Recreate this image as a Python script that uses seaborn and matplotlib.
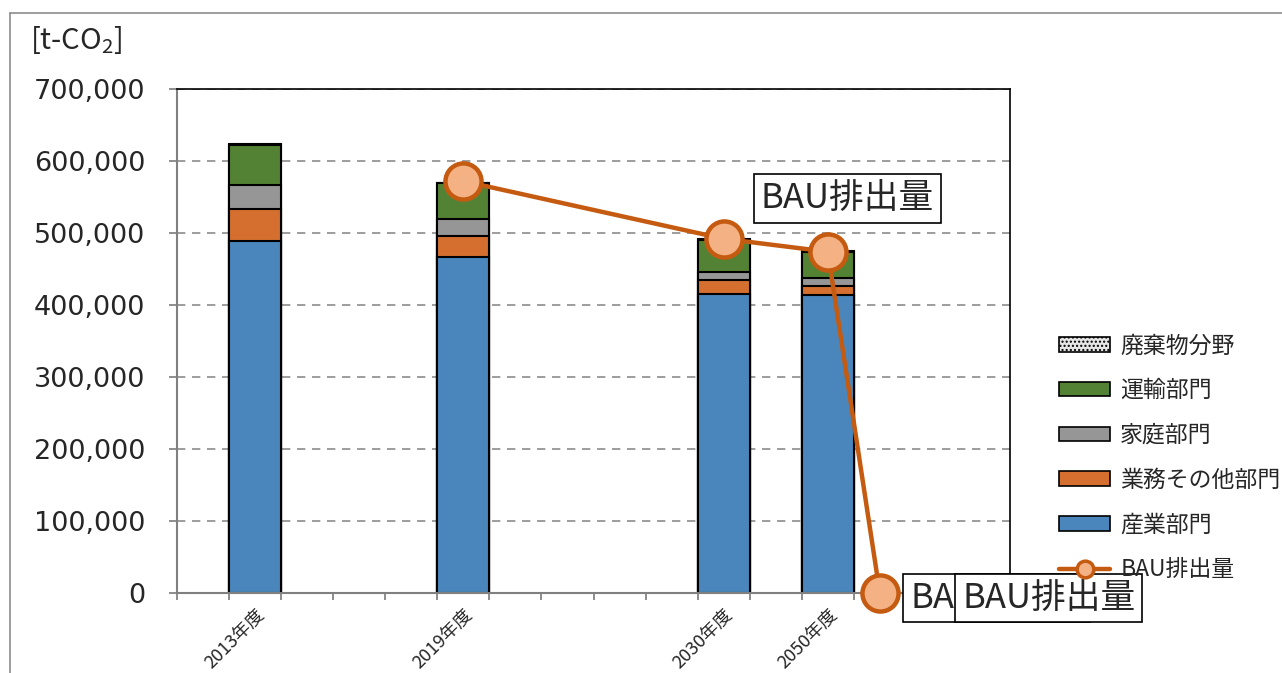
import numpy as np
import pandas as pd
import matplotlib
matplotlib.use("Agg")
import matplotlib.pyplot as plt
from matplotlib.patches import Patch
from matplotlib.lines import Line2D
import seaborn as sns

# ---- data ----
slots = [f"s{i}" for i in range(16)]
bar_slots = ["s1", "s5", "s10", "s12"]
bar_labels = ["2013年度", "2019年度", "2030年度", "2050年度"]
industry = [489000, 466000, 415000, 414000]      # 産業部門
business = [44000, 30000, 20000, 12000]          # 業務その他部門
household = [34000, 23000, 11000, 12000]         # 家庭部門
transport = [55000, 50000, 44000, 36000]         # 運輸部門
waste = [1000, 1000, 1000, 1000]                 # 廃棄物分野
bau_x = [5, 10, 12, 13]
bau_y = [572000, 492000, 474000, 0]
yticks = [0, 100000, 200000, 300000, 400000, 500000, 600000, 700000]

sns.set_theme(style="white")
plt.rcParams['font.family'] = ['Noto Sans CJK JP', 'DejaVu Sans']
plt.rcParams['mathtext.fontset'] = 'custom'
plt.rcParams['mathtext.rm'] = 'Noto Sans CJK JP'
plt.rcParams['hatch.color'] = '#AAAAAA'

fig = plt.figure(figsize=(12.82, 6.73), dpi=100)
ax = fig.add_axes([177/1282, 1-593/673, (1010-177)/1282, (593-89)/673])

c_ind = "#4A86BC"
c_bus = "#D46F2F"
c_hh = "#969696"
c_tr = "#548235"
c_wa = "#E6E6E6"

layers = [industry, business, household, transport, waste]
cum = np.cumsum(np.array(layers), axis=0)
colors = [c_ind, c_bus, c_hh, c_tr, c_wa]
for k in range(4, -1, -1):
    df = pd.DataFrame({"slot": bar_slots, "val": cum[k]})
    sns.barplot(data=df, x="slot", y="val", order=slots, color=colors[k],
                width=1.0, edgecolor="black", linewidth=1.5, saturation=1,
                ax=ax, zorder=2)

sns.lineplot(x=bau_x, y=bau_y, ax=ax, color="#C55A11", linewidth=3.2,
             marker="o", markersize=26, markerfacecolor="#F4B183",
             markeredgecolor="#C55A11", markeredgewidth=3.2, zorder=5,
             clip_on=False)

ax.set_xlim(-0.5, 15.5)
ax.set_ylim(0, 700000)
ax.set_yticks(yticks)
ax.set_yticklabels([f"{v:,}" for v in yticks], fontsize=19.5, family="DejaVu Sans")
ax.tick_params(axis='y', length=6, color="#808080", direction='out', left=True, pad=17)
ax.yaxis.grid(True, linestyle=(0, (5, 4)), color="#8C8C8C", linewidth=1.2)
ax.set_axisbelow(True)

ax.set_xticks(np.arange(-0.5, 16, 1.0))
ax.set_xticklabels([])
ax.tick_params(axis='x', length=5, color="#808080", direction='out', bottom=True)
ax.set_xticks([1, 5, 10, 12], minor=True)
ax.set_xticklabels(bar_labels, minor=True, rotation=45, ha='right',
                   rotation_mode='anchor', fontsize=13)
ax.tick_params(axis='x', which='minor', length=0, pad=9)
ax.set_xlabel("")
ax.set_ylabel("")

for s in ["left", "bottom"]:
    ax.spines[s].set_color("#808080")
    ax.spines[s].set_linewidth(1.5)
for s in ["top", "right"]:
    ax.spines[s].set_color("black")
    ax.spines[s].set_linewidth(1.2)

box = dict(boxstyle="square,pad=0.2", facecolor="white", edgecolor="black", linewidth=1.2)
ax.text(12.38, 548000, "BAU排出量", fontsize=25, ha='center', va='center', bbox=box, zorder=6)
ax.text(13.58, -7000, "BAU排出量", fontsize=25, ha='left', va='center', bbox=box,
        zorder=6, clip_on=False)
ax.text(14.58, -7000, "BAU排出量", fontsize=25, ha='left', va='center', bbox=box,
        zorder=7, clip_on=False)

fig.text(30/1282, 1-40/673, "[t-CO$_2$]", fontsize=21, ha='left', va='center')

handles = [
    Patch(facecolor=c_wa, edgecolor="black", hatch="....", linewidth=1.2),
    Patch(facecolor=c_tr, edgecolor="black", linewidth=1.2),
    Patch(facecolor=c_hh, edgecolor="black", linewidth=1.2),
    Patch(facecolor=c_bus, edgecolor="black", linewidth=1.2),
    Patch(facecolor=c_ind, edgecolor="black", linewidth=1.2),
    Line2D([0], [0], color="#C55A11", linewidth=3.2, marker="o", markersize=12,
           markerfacecolor="#F4B183", markeredgecolor="#C55A11", markeredgewidth=2.5),
]
labels = ["廃棄物分野", "運輸部門", "家庭部門", "業務その他部門", "産業部門", "BAU排出量"]
leg = fig.legend(handles, labels, loc='upper left', bbox_to_anchor=(1048/1282, 1-323/673),
                 frameon=False, fontsize=16.5, handlelength=2.2, handleheight=0.6,
                 labelspacing=0.95, handletextpad=0.45, borderpad=0)

fig.add_artist(Line2D([10/1282, 1], [1-13/673, 1-13/673], color="#8C8C8C", linewidth=1.2,
                      transform=fig.transFigure))
fig.add_artist(Line2D([10/1282, 10/1282], [0, 1-13/673], color="#8C8C8C", linewidth=1.2,
                      transform=fig.transFigure))

fig.savefig("out.png", dpi=100)
